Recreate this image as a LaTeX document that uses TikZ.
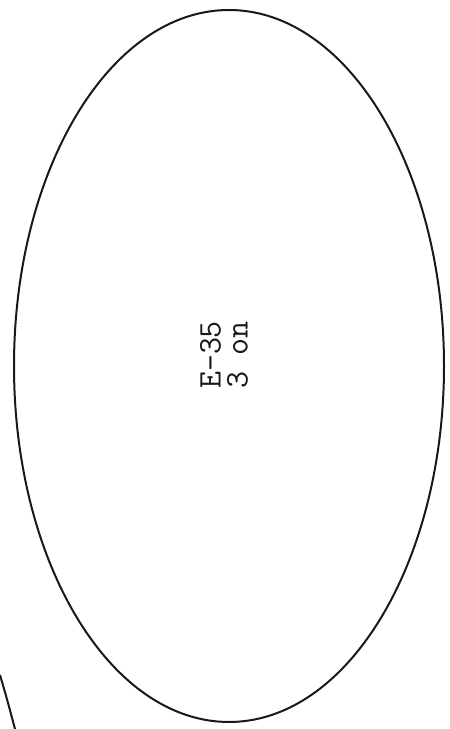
\documentclass[tikz,border=0pt]{standalone}
\usetikzlibrary{shapes.geometric}

\begin{document}
\begin{tikzpicture}[x=1pt, y=1pt,
  outline/.style={draw=black!90, line width=2pt},
  stamp/.style={rotate=90, align=left, inner sep=0pt, text=black!90,
                font=\ttfamily\fontsize{33}{27}\selectfont}]
  \useasboundingbox (0,0) rectangle (450,729);
  \node[outline, ellipse, minimum width=430pt, minimum height=712pt, inner sep=0pt] (shell) at (229,363) {};
  \node[stamp] (tag) at (224,374) {E-35\\3 on};
  \coordinate (edgeA) at (0,54);
  \coordinate (edgeB) at (15,0);
  \draw[outline] (edgeA) .. controls (7,30) .. (edgeB);
\end{tikzpicture}
\end{document}
